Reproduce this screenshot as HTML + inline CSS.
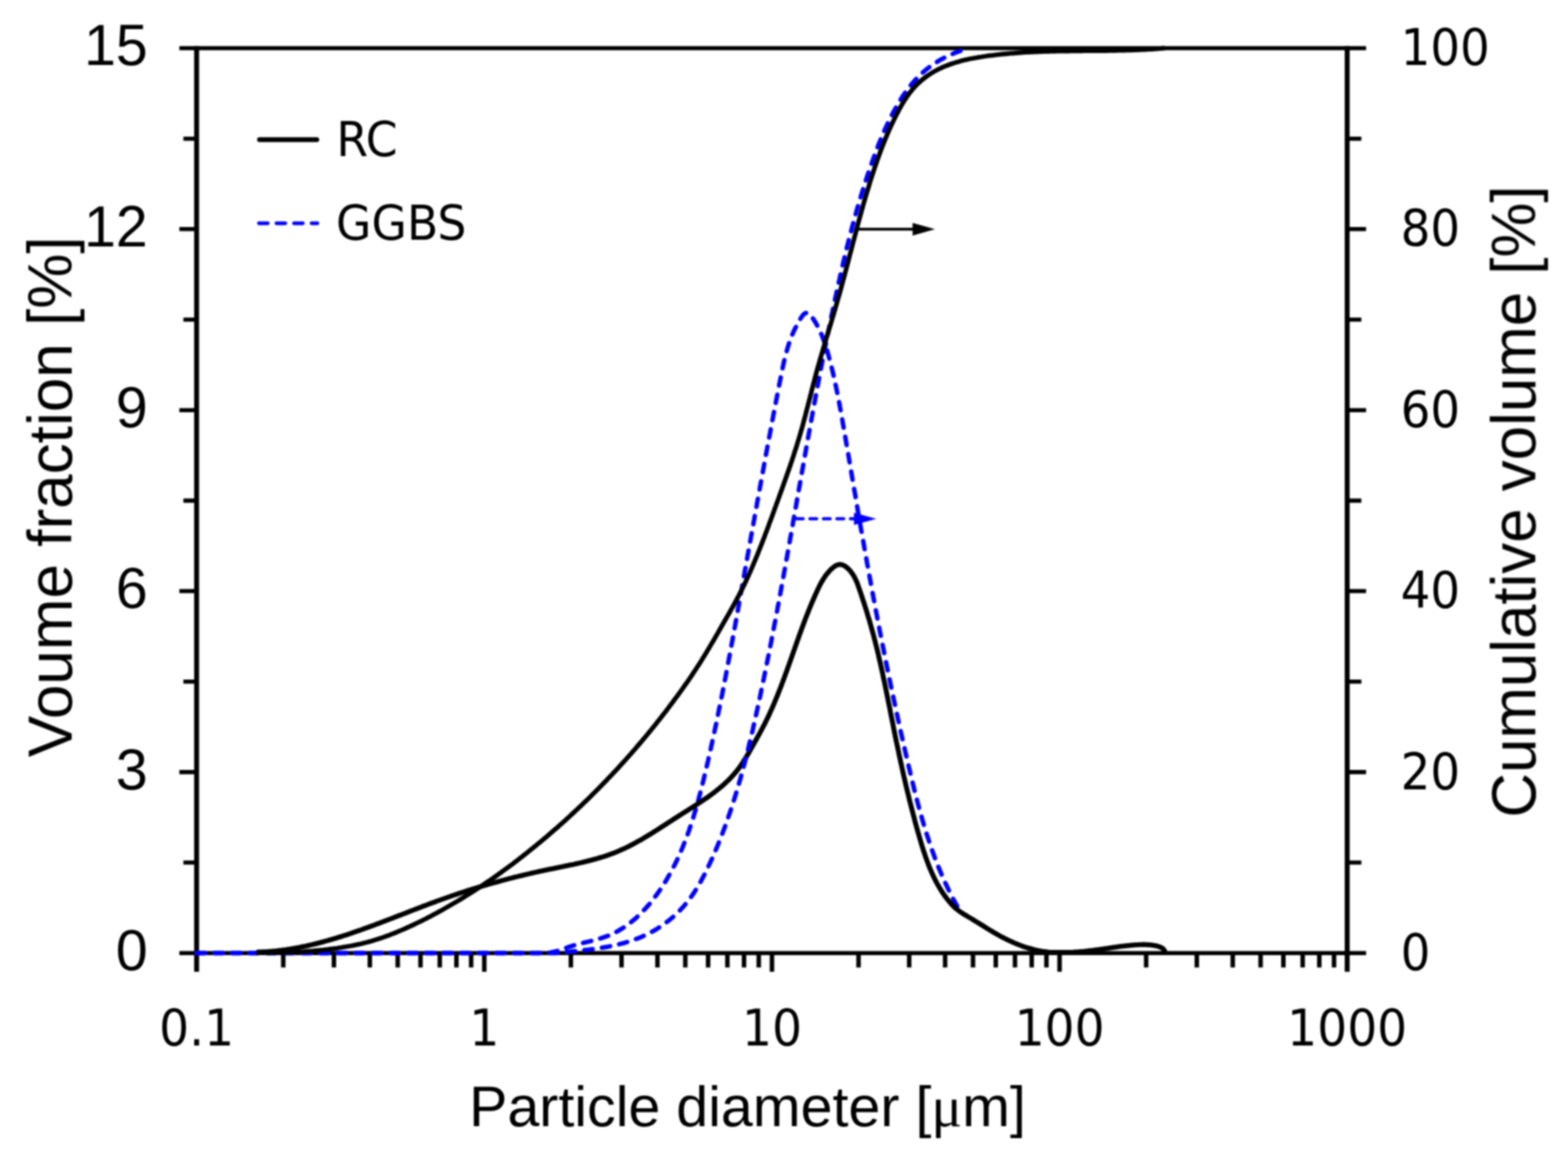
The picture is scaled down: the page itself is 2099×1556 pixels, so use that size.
<!DOCTYPE html>
<html lang="en"><head><meta charset="utf-8"><title>Particle size distribution</title>
<style>html,body{margin:0;padding:0;background:#fff}body{width:2099px;height:1556px;overflow:hidden}svg{display:block}</style>
</head><body>
<svg width="2099" height="1556" viewBox="0 0 2099 1556">
<rect width="2099" height="1556" fill="#fff"/>
<defs><filter id="soft" x="0" y="0" width="2099" height="1556" filterUnits="userSpaceOnUse" color-interpolation-filters="sRGB"><feGaussianBlur stdDeviation="0.9"/></filter></defs>
<g filter="url(#soft)">
<path d="M240.1 1276.2H263.3M245.5 1155.0H263.3M240.1 1033.9H263.3M245.5 912.7H263.3M240.1 791.5H263.3M245.5 670.4H263.3M240.1 549.2H263.3M245.5 428.0H263.3M240.1 306.8H263.3M245.5 185.7H263.3M240.1 64.5H263.3M1803.4 1276.2H1828.7M1803.4 1155.0H1822.4M1803.4 1033.9H1828.7M1803.4 912.7H1822.4M1803.4 791.5H1828.7M1803.4 670.4H1822.4M1803.4 549.2H1828.7M1803.4 428.0H1822.4M1803.4 306.8H1828.7M1803.4 185.7H1822.4M1803.4 64.5H1828.7M260.0 64.5H1806.7M260.0 1276.2H1806.7" stroke="#000" stroke-width="5.6" fill="none"/>
<path d="M379.2 1276.2V1295.4M447.0 1276.2V1295.4M495.1 1276.2V1295.4M532.4 1276.2V1295.4M562.9 1276.2V1295.4M588.7 1276.2V1295.4M611.0 1276.2V1295.4M630.7 1276.2V1295.4M648.3 1276.2V1301.2M764.2 1276.2V1295.4M832.0 1276.2V1295.4M880.1 1276.2V1295.4M917.4 1276.2V1295.4M947.9 1276.2V1295.4M973.7 1276.2V1295.4M996.0 1276.2V1295.4M1015.7 1276.2V1295.4M1033.4 1276.2V1301.2M1149.3 1276.2V1295.4M1217.1 1276.2V1295.4M1265.2 1276.2V1295.4M1302.5 1276.2V1295.4M1333.0 1276.2V1295.4M1358.7 1276.2V1295.4M1381.1 1276.2V1295.4M1400.8 1276.2V1295.4M1418.4 1276.2V1301.2M1534.3 1276.2V1295.4M1602.1 1276.2V1295.4M1650.2 1276.2V1295.4M1687.5 1276.2V1295.4M1718.0 1276.2V1295.4M1743.8 1276.2V1295.4M1766.1 1276.2V1295.4M1785.8 1276.2V1295.4" stroke="#000" stroke-width="6.0" fill="none"/>
<path d="M263.2 61.7V1301.2M1803.4 61.7V1301.2" stroke="#000" stroke-width="6.6" fill="none"/>
<path d="M263.3 1276.2 L725.0 1276.2 L725.0 1276.2 L728.1 1276.3 L731.2 1276.1 L734.2 1275.9 L737.2 1275.4 L740.1 1274.8 L742.9 1274.1 L745.8 1273.4 L748.6 1272.5 L751.3 1271.6 L754.1 1270.6 L756.9 1269.6 L759.7 1268.7 L762.5 1267.7 L765.4 1266.8 L768.2 1265.9 L771.1 1265.1 L774.1 1264.3 L777.0 1263.5 L780.0 1262.8 L783.0 1262.0 L786.0 1261.3 L789.0 1260.6 L792.0 1259.9 L794.9 1259.1 L797.9 1258.3 L800.9 1257.5 L803.8 1256.6 L806.7 1255.7 L809.6 1254.7 L812.4 1253.7 L815.2 1252.6 L817.9 1251.4 L820.7 1250.1 L823.3 1248.8 L826.0 1247.4 L828.6 1245.9 L831.1 1244.4 L833.7 1242.8 L836.1 1241.2 L838.6 1239.5 L841.0 1237.7 L843.4 1235.9 L845.7 1234.0 L848.0 1232.1 L850.3 1230.2 L852.5 1228.2 L854.7 1226.1 L856.9 1224.0 L859.0 1221.9 L861.1 1219.7 L863.2 1217.5 L865.2 1215.3 L867.2 1213.0 L869.2 1210.7 L871.1 1208.4 L873.0 1206.0 L874.9 1203.6 L876.7 1201.2 L878.5 1198.8 L880.3 1196.4 L882.0 1193.9 L883.7 1191.4 L885.4 1188.9 L887.0 1186.4 L888.6 1183.9 L890.2 1181.3 L891.8 1178.8 L893.3 1176.2 L894.8 1173.6 L896.3 1171.0 L897.7 1168.4 L899.2 1165.8 L900.6 1163.1 L901.9 1160.5 L903.3 1157.8 L904.6 1155.1 L905.9 1152.5 L907.2 1149.8 L908.4 1147.0 L909.6 1144.3 L910.8 1141.6 L912.0 1138.8 L913.2 1136.1 L914.3 1133.3 L915.4 1130.5 L916.5 1127.8 L917.6 1125.0 L918.7 1122.2 L919.7 1119.4 L920.8 1116.5 L921.8 1113.7 L922.8 1110.9 L923.7 1108.0 L924.7 1105.2 L925.6 1102.3 L926.6 1099.5 L927.5 1096.6 L928.4 1093.7 L929.2 1090.8 L930.1 1087.9 L931.0 1085.0 L931.8 1082.1 L932.6 1079.2 L933.5 1076.3 L934.3 1073.4 L935.1 1070.5 L935.8 1067.6 L936.6 1064.7 L937.4 1061.7 L938.1 1058.8 L938.9 1055.9 L939.6 1052.9 L940.4 1050.0 L941.1 1047.1 L941.8 1044.1 L942.5 1041.2 L943.2 1038.2 L943.9 1035.3 L944.6 1032.3 L945.3 1029.4 L946.0 1026.5 L946.7 1023.5 L947.4 1020.6 L948.1 1017.6 L948.7 1014.7 L949.4 1011.7 L950.1 1008.8 L950.7 1005.9 L951.4 1002.9 L952.0 1000.0 L952.7 997.0 L953.3 994.1 L954.0 991.1 L954.6 988.2 L955.2 985.2 L955.9 982.3 L956.5 979.4 L957.1 976.4 L957.8 973.5 L958.4 970.5 L959.0 967.6 L959.6 964.6 L960.2 961.7 L960.8 958.8 L961.4 955.8 L962.0 952.9 L962.6 949.9 L963.2 947.0 L963.8 944.0 L964.4 941.1 L965.0 938.1 L965.6 935.2 L966.2 932.3 L966.8 929.3 L967.4 926.4 L967.9 923.4 L968.5 920.5 L969.1 917.5 L969.7 914.6 L970.2 911.6 L970.8 908.7 L971.4 905.8 L971.9 902.8 L972.5 899.9 L973.0 896.9 L973.6 894.0 L974.2 891.0 L974.7 888.1 L975.3 885.1 L975.8 882.2 L976.4 879.2 L976.9 876.3 L977.5 873.3 L978.0 870.4 L978.6 867.4 L979.1 864.5 L979.6 861.6 L980.2 858.6 L980.7 855.7 L981.3 852.7 L981.8 849.8 L982.3 846.8 L982.9 843.9 L983.4 840.9 L984.0 838.0 L984.5 835.0 L985.0 832.1 L985.6 829.1 L986.1 826.2 L986.6 823.2 L987.2 820.3 L987.7 817.3 L988.2 814.4 L988.8 811.4 L989.3 808.4 L989.8 805.5 L990.3 802.5 L990.9 799.6 L991.4 796.6 L991.9 793.7 L992.5 790.7 L993.0 787.8 L993.5 784.8 L994.1 781.9 L994.6 778.9 L995.1 775.9 L995.6 773.0 L996.2 770.0 L996.7 767.1 L997.2 764.1 L997.8 761.2 L998.3 758.2 L998.8 755.2 L999.4 752.3 L999.9 749.3 L1000.4 746.4 L1000.9 743.4 L1001.5 740.5 L1002.0 737.5 L1002.5 734.5 L1003.1 731.6 L1003.6 728.6 L1004.1 725.7 L1004.7 722.7 L1005.2 719.7 L1005.7 716.8 L1006.3 713.8 L1006.8 710.9 L1007.3 707.9 L1007.9 704.9 L1008.4 702.0 L1008.9 699.0 L1009.5 696.1 L1010.0 693.1 L1010.5 690.1 L1011.1 687.2 L1011.6 684.2 L1012.1 681.2 L1012.7 678.3 L1013.2 675.3 L1013.7 672.4 L1014.3 669.4 L1014.8 666.4 L1015.4 663.5 L1015.9 660.5 L1016.4 657.5 L1017.0 654.6 L1017.5 651.6 L1018.1 648.7 L1018.6 645.7 L1019.1 642.7 L1019.7 639.8 L1020.2 636.8 L1020.8 633.8 L1021.3 630.9 L1021.9 627.9 L1022.4 625.0 L1022.9 622.0 L1023.5 619.0 L1024.0 616.1 L1024.6 613.1 L1025.1 610.1 L1025.7 607.2 L1026.2 604.2 L1026.8 601.3 L1027.3 598.3 L1027.9 595.3 L1028.4 592.4 L1029.0 589.4 L1029.6 586.4 L1030.1 583.5 L1030.7 580.5 L1031.2 577.5 L1031.8 574.6 L1032.3 571.6 L1032.9 568.7 L1033.5 565.7 L1034.0 562.7 L1034.6 559.8 L1035.1 556.8 L1035.7 553.8 L1036.3 550.9 L1036.8 547.9 L1037.4 545.0 L1038.0 542.0 L1038.5 539.0 L1039.1 536.1 L1039.7 533.1 L1040.3 530.2 L1040.8 527.2 L1041.4 524.2 L1042.0 521.3 L1042.6 518.3 L1043.1 515.3 L1043.7 512.4 L1044.3 509.4 L1044.9 506.5 L1045.5 503.5 L1046.1 500.6 L1046.7 497.6 L1047.3 494.6 L1047.9 491.7 L1048.5 488.8 L1049.2 485.8 L1049.8 482.9 L1050.5 480.0 L1051.2 477.1 L1052.0 474.2 L1052.8 471.3 L1053.6 468.5 L1054.4 465.6 L1055.3 462.8 L1056.2 460.0 L1057.1 457.2 L1058.1 454.4 L1059.2 451.7 L1060.3 448.9 L1061.4 446.2 L1062.6 443.5 L1063.9 440.9 L1065.2 438.2 L1066.6 435.5 L1068.1 432.7 L1069.7 429.8 L1071.5 426.8 L1073.4 423.9 L1075.4 421.3 L1077.5 419.6 L1079.6 418.9 L1081.8 419.5 L1084.0 421.1 L1086.2 423.5 L1088.2 426.4 L1090.1 429.3 L1091.9 432.2 L1093.4 434.9 L1094.9 437.6 L1096.2 440.2 L1097.4 442.9 L1098.6 445.5 L1099.8 448.2 L1100.9 450.9 L1101.9 453.7 L1103.0 456.5 L1103.9 459.3 L1104.9 462.1 L1105.8 465.0 L1106.7 467.8 L1107.6 470.7 L1108.4 473.6 L1109.2 476.5 L1110.0 479.4 L1110.8 482.4 L1111.6 485.3 L1112.3 488.2 L1113.1 491.2 L1113.8 494.1 L1114.5 497.0 L1115.2 500.0 L1115.8 502.9 L1116.5 505.9 L1117.2 508.8 L1117.8 511.8 L1118.4 514.7 L1119.1 517.6 L1119.7 520.6 L1120.3 523.5 L1120.9 526.5 L1121.5 529.4 L1122.0 532.4 L1122.6 535.3 L1123.2 538.3 L1123.7 541.2 L1124.3 544.2 L1124.8 547.1 L1125.4 550.1 L1125.9 553.1 L1126.4 556.0 L1127.0 559.0 L1127.5 561.9 L1128.0 564.9 L1128.5 567.8 L1129.0 570.8 L1129.5 573.8 L1130.1 576.7 L1130.6 579.7 L1131.1 582.6 L1131.6 585.6 L1132.1 588.6 L1132.6 591.5 L1133.1 594.5 L1133.6 597.4 L1134.1 600.4 L1134.6 603.4 L1135.1 606.3 L1135.7 609.3 L1136.2 612.2 L1136.7 615.2 L1137.2 618.2 L1137.7 621.1 L1138.2 624.1 L1138.7 627.1 L1139.2 630.0 L1139.7 633.0 L1140.2 636.0 L1140.7 638.9 L1141.2 641.9 L1141.7 644.9 L1142.2 647.8 L1142.7 650.8 L1143.2 653.8 L1143.7 656.7 L1144.3 659.7 L1144.8 662.6 L1145.3 665.6 L1145.8 668.6 L1146.3 671.5 L1146.8 674.5 L1147.3 677.5 L1147.8 680.4 L1148.3 683.4 L1148.8 686.4 L1149.3 689.3 L1149.9 692.3 L1150.4 695.3 L1150.9 698.2 L1151.4 701.2 L1151.9 704.2 L1152.4 707.1 L1152.9 710.1 L1153.5 713.0 L1154.0 716.0 L1154.5 719.0 L1155.0 721.9 L1155.6 724.9 L1156.1 727.8 L1156.6 730.8 L1157.1 733.8 L1157.7 736.7 L1158.2 739.7 L1158.7 742.7 L1159.2 745.6 L1159.8 748.6 L1160.3 751.5 L1160.8 754.5 L1161.4 757.4 L1161.9 760.4 L1162.4 763.4 L1163.0 766.3 L1163.5 769.3 L1164.1 772.2 L1164.6 775.2 L1165.2 778.1 L1165.7 781.1 L1166.2 784.1 L1166.8 787.0 L1167.3 790.0 L1167.9 792.9 L1168.4 795.9 L1169.0 798.8 L1169.5 801.8 L1170.1 804.7 L1170.7 807.7 L1171.2 810.6 L1171.8 813.6 L1172.3 816.6 L1172.9 819.5 L1173.5 822.5 L1174.0 825.4 L1174.6 828.4 L1175.2 831.3 L1175.7 834.3 L1176.3 837.2 L1176.9 840.2 L1177.4 843.1 L1178.0 846.1 L1178.6 849.0 L1179.2 852.0 L1179.7 854.9 L1180.3 857.9 L1180.9 860.8 L1181.5 863.8 L1182.1 866.7 L1182.7 869.7 L1183.3 872.6 L1183.8 875.5 L1184.4 878.5 L1185.0 881.4 L1185.6 884.4 L1186.2 887.3 L1186.8 890.3 L1187.4 893.2 L1188.0 896.2 L1188.6 899.1 L1189.2 902.1 L1189.8 905.0 L1190.4 907.9 L1191.1 910.9 L1191.7 913.8 L1192.3 916.8 L1192.9 919.7 L1193.5 922.7 L1194.1 925.6 L1194.8 928.5 L1195.4 931.5 L1196.0 934.4 L1196.6 937.4 L1197.3 940.3 L1197.9 943.2 L1198.5 946.2 L1199.1 949.1 L1199.8 952.1 L1200.4 955.0 L1201.1 957.9 L1201.7 960.9 L1202.3 963.8 L1203.0 966.8 L1203.6 969.7 L1204.3 972.6 L1204.9 975.6 L1205.6 978.5 L1206.2 981.4 L1206.9 984.4 L1207.5 987.3 L1208.2 990.3 L1208.9 993.2 L1209.5 996.1 L1210.2 999.1 L1210.9 1002.0 L1211.5 1004.9 L1212.2 1007.9 L1212.9 1010.8 L1213.6 1013.7 L1214.2 1016.7 L1214.9 1019.6 L1215.6 1022.5 L1216.3 1025.5 L1217.0 1028.4 L1217.7 1031.3 L1218.4 1034.3 L1219.1 1037.2 L1219.8 1040.1 L1220.5 1043.0 L1221.2 1046.0 L1221.9 1048.9 L1222.6 1051.8 L1223.3 1054.7 L1224.0 1057.7 L1224.8 1060.6 L1225.5 1063.5 L1226.3 1066.4 L1227.0 1069.3 L1227.8 1072.3 L1228.5 1075.2 L1229.3 1078.1 L1230.1 1081.0 L1230.9 1083.9 L1231.7 1086.8 L1232.5 1089.7 L1233.3 1092.6 L1234.1 1095.5 L1234.9 1098.3 L1235.8 1101.2 L1236.6 1104.1 L1237.5 1107.0 L1238.4 1109.9 L1239.2 1112.7 L1240.1 1115.6 L1241.0 1118.4 L1242.0 1121.3 L1242.9 1124.2 L1243.8 1127.0 L1244.8 1129.8 L1245.8 1132.7 L1246.7 1135.5 L1247.7 1138.3 L1248.7 1141.2 L1249.8 1144.0 L1250.8 1146.8 L1251.8 1149.6 L1252.9 1152.4 L1254.0 1155.2 L1255.1 1158.0 L1256.2 1160.8 L1257.3 1163.5 L1258.5 1166.3 L1259.7 1169.1 L1260.8 1171.8 L1262.0 1174.6 L1263.2 1177.3 L1264.5 1180.1 L1265.7 1182.8 L1267.0 1185.5 L1268.3 1188.3 L1269.6 1191.0 L1270.9 1193.7 L1272.3 1196.4 L1273.6 1199.0 L1275.0 1201.7 L1276.4 1204.4 L1277.9 1207.1 L1279.3 1209.7 L1280.8 1212.4 L1282.3 1215.0" fill="none" stroke="#0000ff" stroke-width="6.0" stroke-dasharray="11.2 12.4" stroke-linecap="round" stroke-linejoin="round"/>
<path d="M343.5 1275.0 L346.5 1274.9 L349.6 1274.8 L352.6 1274.6 L355.6 1274.5 L358.6 1274.3 L361.7 1274.0 L364.7 1273.8 L367.7 1273.5 L370.7 1273.2 L373.6 1272.8 L376.6 1272.5 L379.6 1272.1 L382.6 1271.7 L385.5 1271.2 L388.5 1270.8 L391.4 1270.3 L394.4 1269.8 L397.3 1269.2 L400.3 1268.7 L403.2 1268.1 L406.1 1267.5 L409.1 1266.9 L412.0 1266.2 L414.9 1265.6 L417.8 1264.9 L420.7 1264.2 L423.6 1263.5 L426.5 1262.8 L429.4 1262.0 L432.3 1261.2 L435.2 1260.4 L438.1 1259.6 L441.0 1258.8 L443.8 1258.0 L446.7 1257.1 L449.6 1256.3 L452.4 1255.4 L455.3 1254.5 L458.2 1253.6 L461.0 1252.7 L463.9 1251.8 L466.7 1250.8 L469.6 1249.9 L472.4 1248.9 L475.3 1247.9 L478.1 1246.9 L480.9 1246.0 L483.8 1245.0 L486.6 1243.9 L489.5 1242.9 L492.3 1241.9 L495.1 1240.9 L497.9 1239.8 L500.8 1238.8 L503.6 1237.7 L506.4 1236.7 L509.2 1235.6 L512.1 1234.5 L514.9 1233.4 L517.7 1232.4 L520.5 1231.3 L523.3 1230.2 L526.2 1229.1 L529.0 1228.0 L531.8 1226.9 L534.6 1225.8 L537.4 1224.8 L540.2 1223.7 L543.0 1222.6 L545.9 1221.5 L548.7 1220.4 L551.5 1219.3 L554.3 1218.2 L557.1 1217.1 L559.9 1216.1 L562.8 1215.0 L565.6 1213.9 L568.4 1212.8 L571.2 1211.8 L574.0 1210.7 L576.8 1209.7 L579.7 1208.6 L582.5 1207.6 L585.3 1206.5 L588.1 1205.5 L591.0 1204.5 L593.8 1203.5 L596.6 1202.5 L599.5 1201.5 L602.3 1200.5 L605.1 1199.5 L608.0 1198.5 L610.8 1197.6 L613.6 1196.6 L616.5 1195.7 L619.3 1194.8 L622.2 1193.8 L625.0 1192.9 L627.9 1192.0 L630.7 1191.1 L633.6 1190.2 L636.5 1189.3 L639.3 1188.5 L642.2 1187.6 L645.0 1186.7 L647.9 1185.9 L650.8 1185.1 L653.7 1184.2 L656.5 1183.4 L659.4 1182.6 L662.3 1181.8 L665.2 1181.0 L668.1 1180.2 L671.0 1179.4 L673.9 1178.6 L676.7 1177.8 L679.6 1177.1 L682.5 1176.3 L685.5 1175.6 L688.4 1174.8 L691.3 1174.1 L694.2 1173.4 L697.1 1172.7 L700.0 1172.0 L703.0 1171.3 L705.9 1170.6 L708.8 1169.9 L711.7 1169.2 L714.7 1168.6 L717.6 1167.9 L720.6 1167.2 L723.5 1166.6 L726.5 1166.0 L729.4 1165.3 L732.4 1164.7 L735.4 1164.1 L738.3 1163.5 L741.3 1162.9 L744.3 1162.3 L747.2 1161.7 L750.2 1161.1 L753.2 1160.5 L756.1 1159.8 L759.1 1159.2 L762.1 1158.6 L765.0 1158.0 L768.0 1157.4 L771.0 1156.7 L773.9 1156.1 L776.9 1155.4 L779.8 1154.7 L782.7 1154.0 L785.7 1153.3 L788.6 1152.5 L791.5 1151.8 L794.4 1151.0 L797.3 1150.2 L800.2 1149.4 L803.0 1148.5 L805.9 1147.7 L808.8 1146.8 L811.6 1145.8 L814.4 1144.9 L817.2 1143.9 L820.0 1142.8 L822.8 1141.8 L825.5 1140.7 L828.3 1139.5 L831.0 1138.3 L833.7 1137.1 L836.4 1135.9 L839.1 1134.6 L841.8 1133.3 L844.4 1131.9 L847.1 1130.5 L849.7 1129.1 L852.3 1127.7 L854.9 1126.2 L857.5 1124.8 L860.1 1123.3 L862.7 1121.7 L865.3 1120.2 L867.8 1118.7 L870.4 1117.1 L873.0 1115.5 L875.5 1113.9 L878.1 1112.3 L880.6 1110.7 L883.2 1109.0 L885.7 1107.4 L888.3 1105.8 L890.8 1104.1 L893.3 1102.5 L895.9 1100.8 L898.4 1099.2 L901.0 1097.5 L903.5 1095.9 L906.1 1094.2 L908.6 1092.6 L911.2 1091.0 L913.8 1089.3 L916.3 1087.7 L918.9 1086.1 L921.5 1084.5 L924.0 1082.8 L926.6 1081.2 L929.1 1079.6 L931.7 1077.9 L934.2 1076.3 L936.7 1074.6 L939.2 1073.0 L941.7 1071.3 L944.2 1069.6 L946.7 1067.9 L949.1 1066.2 L951.6 1064.4 L954.0 1062.6 L956.4 1060.8 L958.7 1059.0 L961.0 1057.2 L963.3 1055.3 L965.6 1053.4 L967.9 1051.4 L970.1 1049.5 L972.2 1047.4 L974.4 1045.4 L976.5 1043.3 L978.5 1041.2 L980.5 1039.0 L982.5 1036.8 L984.5 1034.5 L986.3 1032.2 L988.2 1029.8 L990.0 1027.4 L991.7 1025.0 L993.4 1022.5 L995.1 1019.9 L996.7 1017.4 L998.3 1014.8 L999.9 1012.1 L1001.5 1009.5 L1003.0 1006.9 L1004.5 1004.2 L1006.0 1001.5 L1007.5 998.9 L1009.0 996.2 L1010.4 993.6 L1011.9 991.0 L1013.4 988.3 L1014.8 985.7 L1016.3 983.1 L1017.7 980.5 L1019.1 977.9 L1020.5 975.3 L1021.9 972.6 L1023.3 970.0 L1024.6 967.3 L1025.9 964.6 L1027.2 962.0 L1028.5 959.3 L1029.8 956.6 L1031.0 953.8 L1032.2 951.1 L1033.5 948.4 L1034.7 945.6 L1035.9 942.9 L1037.0 940.1 L1038.2 937.4 L1039.3 934.6 L1040.5 931.8 L1041.6 929.0 L1042.7 926.2 L1043.8 923.4 L1044.9 920.6 L1046.0 917.8 L1047.0 915.0 L1048.1 912.1 L1049.2 909.3 L1050.2 906.5 L1051.2 903.6 L1052.3 900.8 L1053.3 898.0 L1054.3 895.1 L1055.3 892.3 L1056.4 889.4 L1057.4 886.6 L1058.4 883.7 L1059.4 880.9 L1060.4 878.0 L1061.4 875.2 L1062.4 872.3 L1063.4 869.5 L1064.4 866.6 L1065.4 863.8 L1066.4 860.9 L1067.4 858.1 L1068.4 855.3 L1069.4 852.4 L1070.4 849.6 L1071.5 846.8 L1072.5 843.9 L1073.5 841.1 L1074.6 838.3 L1075.6 835.5 L1076.7 832.7 L1077.7 829.9 L1078.8 827.1 L1079.9 824.3 L1081.0 821.5 L1082.1 818.7 L1083.2 815.9 L1084.3 813.2 L1085.5 810.4 L1086.6 807.6 L1087.8 804.9 L1089.0 802.2 L1090.2 799.4 L1091.4 796.7 L1092.6 794.0 L1093.8 791.3 L1095.1 788.6 L1096.4 785.9 L1097.7 783.3 L1099.1 780.6 L1100.6 778.0 L1102.1 775.5 L1103.8 772.9 L1105.5 770.4 L1107.4 768.0 L1109.5 765.6 L1111.6 763.2 L1114.0 761.0 L1116.5 759.0 L1119.0 757.3 L1121.7 756.2 L1124.4 755.8 L1127.1 756.2 L1129.7 757.3 L1132.3 758.9 L1134.7 760.9 L1137.0 763.2 L1139.1 765.6 L1140.9 768.1 L1142.6 770.7 L1144.1 773.4 L1145.4 776.1 L1146.7 778.8 L1147.8 781.6 L1148.8 784.4 L1149.8 787.3 L1150.8 790.1 L1151.8 793.0 L1152.7 795.8 L1153.7 798.7 L1154.6 801.5 L1155.5 804.4 L1156.5 807.2 L1157.4 810.1 L1158.3 812.9 L1159.2 815.8 L1160.1 818.6 L1161.0 821.5 L1161.8 824.4 L1162.7 827.2 L1163.6 830.1 L1164.4 833.0 L1165.2 835.8 L1166.0 838.7 L1166.8 841.6 L1167.6 844.5 L1168.4 847.4 L1169.2 850.3 L1170.0 853.2 L1170.7 856.1 L1171.5 859.0 L1172.2 861.9 L1172.9 864.8 L1173.7 867.7 L1174.4 870.7 L1175.1 873.6 L1175.8 876.5 L1176.4 879.4 L1177.1 882.4 L1177.8 885.3 L1178.5 888.2 L1179.1 891.2 L1179.8 894.1 L1180.4 897.0 L1181.1 900.0 L1181.7 902.9 L1182.3 905.9 L1182.9 908.8 L1183.6 911.8 L1184.2 914.7 L1184.8 917.7 L1185.4 920.6 L1186.0 923.6 L1186.6 926.5 L1187.2 929.5 L1187.8 932.4 L1188.4 935.4 L1189.0 938.4 L1189.6 941.3 L1190.2 944.3 L1190.8 947.2 L1191.4 950.2 L1191.9 953.1 L1192.5 956.1 L1193.1 959.0 L1193.7 962.0 L1194.3 964.9 L1194.9 967.9 L1195.5 970.8 L1196.1 973.8 L1196.6 976.7 L1197.2 979.7 L1197.8 982.6 L1198.4 985.6 L1199.0 988.5 L1199.6 991.5 L1200.2 994.4 L1200.9 997.3 L1201.5 1000.3 L1202.1 1003.2 L1202.7 1006.2 L1203.3 1009.1 L1203.9 1012.0 L1204.6 1015.0 L1205.2 1017.9 L1205.8 1020.8 L1206.5 1023.7 L1207.1 1026.7 L1207.8 1029.6 L1208.4 1032.5 L1209.1 1035.5 L1209.7 1038.4 L1210.4 1041.3 L1211.1 1044.2 L1211.7 1047.1 L1212.4 1050.1 L1213.1 1053.0 L1213.8 1055.9 L1214.5 1058.8 L1215.2 1061.7 L1215.9 1064.6 L1216.6 1067.6 L1217.3 1070.5 L1218.0 1073.4 L1218.8 1076.3 L1219.5 1079.2 L1220.3 1082.1 L1221.0 1085.0 L1221.8 1087.9 L1222.5 1090.8 L1223.3 1093.7 L1224.1 1096.7 L1224.8 1099.6 L1225.6 1102.5 L1226.4 1105.4 L1227.2 1108.3 L1228.0 1111.2 L1228.8 1114.1 L1229.7 1117.0 L1230.5 1119.9 L1231.3 1122.8 L1232.2 1125.7 L1233.0 1128.6 L1233.9 1131.5 L1234.8 1134.4 L1235.7 1137.2 L1236.6 1140.1 L1237.6 1143.0 L1238.5 1145.8 L1239.5 1148.7 L1240.5 1151.5 L1241.6 1154.4 L1242.6 1157.2 L1243.7 1160.0 L1244.8 1162.8 L1246.0 1165.5 L1247.2 1168.3 L1248.4 1171.0 L1249.7 1173.7 L1251.0 1176.4 L1252.3 1179.1 L1253.7 1181.7 L1255.1 1184.3 L1256.6 1186.9 L1258.1 1189.5 L1259.7 1192.1 L1261.3 1194.6 L1263.0 1197.1 L1264.7 1199.5 L1266.5 1202.0 L1268.3 1204.3 L1270.2 1206.7 L1272.2 1209.0 L1274.2 1211.3 L1276.3 1213.5 L1278.5 1215.6 L1280.8 1217.5 L1283.2 1219.4 L1285.6 1221.1 L1288.1 1222.8 L1290.6 1224.4 L1293.2 1225.9 L1295.8 1227.5 L1298.4 1229.0 L1301.0 1230.5 L1303.5 1232.1 L1306.1 1233.7 L1308.7 1235.3 L1311.2 1236.9 L1313.8 1238.4 L1316.3 1240.0 L1318.9 1241.6 L1321.4 1243.2 L1324.0 1244.8 L1326.6 1246.3 L1329.1 1247.9 L1331.7 1249.4 L1334.4 1250.9 L1337.0 1252.4 L1339.6 1253.8 L1342.3 1255.2 L1345.0 1256.6 L1347.7 1258.0 L1350.4 1259.3 L1353.1 1260.5 L1355.8 1261.8 L1358.6 1263.0 L1361.4 1264.1 L1364.2 1265.2 L1367.0 1266.3 L1369.8 1267.3 L1372.6 1268.3 L1375.5 1269.2 L1378.4 1270.0 L1381.3 1270.8 L1384.2 1271.6 L1387.1 1272.3 L1390.0 1272.9 L1392.9 1273.4 L1395.9 1273.9 L1398.9 1274.3 L1401.8 1274.7 L1404.8 1275.0 L1407.8 1275.2 L1410.9 1275.3 L1413.9 1275.3 L1416.9 1275.3 L1420.0 1275.2 L1422.5 1275.3 L1424.9 1275.3 L1427.4 1275.3 L1429.8 1275.3 L1432.3 1275.3 L1434.7 1275.2 L1437.2 1275.1 L1439.6 1274.9 L1442.0 1274.8 L1444.5 1274.6 L1446.9 1274.4 L1449.4 1274.2 L1451.8 1273.9 L1454.2 1273.7 L1456.7 1273.4 L1459.1 1273.1 L1461.5 1272.8 L1463.9 1272.5 L1466.4 1272.1 L1468.8 1271.8 L1471.2 1271.5 L1473.7 1271.1 L1476.1 1270.8 L1478.5 1270.4 L1480.9 1270.0 L1483.4 1269.7 L1485.8 1269.3 L1488.2 1269.0 L1490.6 1268.6 L1493.1 1268.3 L1495.5 1267.9 L1497.9 1267.6 L1500.4 1267.3 L1502.8 1267.0 L1505.2 1266.7 L1507.6 1266.4 L1510.1 1266.2 L1512.5 1265.9 L1514.9 1265.7 L1517.4 1265.5 L1519.8 1265.3 L1522.3 1265.2 L1524.7 1265.0 L1527.1 1265.0 L1529.6 1264.9 L1532.0 1264.9 L1534.5 1265.0 L1536.9 1265.1 L1539.4 1265.3 L1541.8 1265.5 L1544.2 1265.9 L1546.7 1266.3 L1549.1 1266.9 L1551.5 1267.6 L1553.8 1268.5 L1555.9 1269.7 L1557.7 1271.3 L1559.0 1273.3 L1559.6 1275.8" fill="none" stroke="#000" stroke-width="6.6" stroke-linejoin="round"/>
<path d="M263.3 1276.2 L745.0 1276.2 L745.0 1276.2 L748.0 1275.9 L750.9 1275.6 L753.9 1275.3 L756.9 1275.0 L759.9 1274.7 L762.9 1274.4 L765.9 1274.1 L768.9 1273.8 L771.8 1273.5 L774.8 1273.2 L777.8 1272.8 L780.8 1272.5 L783.8 1272.1 L786.8 1271.8 L789.8 1271.4 L792.8 1271.0 L795.8 1270.6 L798.8 1270.1 L801.8 1269.7 L804.8 1269.2 L807.8 1268.7 L810.8 1268.2 L813.8 1267.7 L816.7 1267.1 L819.7 1266.5 L822.7 1265.8 L825.6 1265.2 L828.5 1264.5 L831.5 1263.7 L834.4 1263.0 L837.3 1262.2 L840.1 1261.3 L843.0 1260.4 L845.9 1259.5 L848.7 1258.5 L851.5 1257.4 L854.3 1256.4 L857.1 1255.2 L859.9 1254.0 L862.6 1252.8 L865.3 1251.5 L868.0 1250.1 L870.7 1248.8 L873.4 1247.3 L876.0 1245.8 L878.6 1244.3 L881.1 1242.7 L883.7 1241.0 L886.2 1239.3 L888.7 1237.6 L891.1 1235.8 L893.5 1234.0 L895.9 1232.1 L898.2 1230.2 L900.5 1228.2 L902.8 1226.2 L905.0 1224.2 L907.1 1222.1 L909.3 1220.0 L911.4 1217.8 L913.4 1215.6 L915.4 1213.4 L917.3 1211.1 L919.2 1208.8 L921.1 1206.4 L922.9 1204.1 L924.7 1201.6 L926.4 1199.2 L928.1 1196.7 L929.8 1194.2 L931.4 1191.7 L933.0 1189.1 L934.5 1186.5 L936.0 1183.9 L937.5 1181.3 L939.0 1178.7 L940.4 1176.0 L941.8 1173.3 L943.2 1170.7 L944.6 1168.0 L945.9 1165.2 L947.2 1162.5 L948.5 1159.8 L949.8 1157.0 L951.1 1154.3 L952.3 1151.5 L953.6 1148.8 L954.8 1146.0 L956.0 1143.2 L957.2 1140.5 L958.4 1137.7 L959.5 1134.9 L960.7 1132.1 L961.8 1129.3 L962.9 1126.5 L964.1 1123.7 L965.2 1120.9 L966.3 1118.1 L967.3 1115.3 L968.4 1112.5 L969.5 1109.7 L970.5 1106.9 L971.5 1104.0 L972.5 1101.2 L973.6 1098.4 L974.5 1095.5 L975.5 1092.7 L976.5 1089.8 L977.5 1087.0 L978.4 1084.1 L979.4 1081.3 L980.3 1078.4 L981.2 1075.6 L982.1 1072.7 L983.0 1069.8 L983.9 1067.0 L984.8 1064.1 L985.7 1061.2 L986.6 1058.3 L987.4 1055.4 L988.3 1052.5 L989.1 1049.7 L989.9 1046.8 L990.8 1043.9 L991.6 1041.0 L992.4 1038.1 L993.2 1035.2 L994.0 1032.3 L994.7 1029.4 L995.5 1026.5 L996.3 1023.5 L997.1 1020.6 L997.8 1017.7 L998.6 1014.8 L999.3 1011.9 L1000.0 1009.0 L1000.8 1006.0 L1001.5 1003.1 L1002.2 1000.2 L1002.9 997.3 L1003.6 994.3 L1004.3 991.4 L1005.0 988.5 L1005.7 985.5 L1006.4 982.6 L1007.1 979.7 L1007.8 976.7 L1008.4 973.8 L1009.1 970.8 L1009.8 967.9 L1010.4 965.0 L1011.1 962.0 L1011.7 959.1 L1012.4 956.1 L1013.0 953.2 L1013.7 950.2 L1014.3 947.3 L1014.9 944.4 L1015.6 941.4 L1016.2 938.5 L1016.8 935.5 L1017.5 932.6 L1018.1 929.6 L1018.7 926.7 L1019.3 923.7 L1020.0 920.8 L1020.6 917.8 L1021.2 914.9 L1021.8 911.9 L1022.4 909.0 L1023.0 906.0 L1023.6 903.1 L1024.2 900.1 L1024.8 897.2 L1025.4 894.2 L1026.0 891.3 L1026.6 888.3 L1027.2 885.3 L1027.8 882.4 L1028.4 879.4 L1029.0 876.5 L1029.6 873.5 L1030.1 870.6 L1030.7 867.6 L1031.3 864.7 L1031.9 861.7 L1032.5 858.8 L1033.0 855.8 L1033.6 852.8 L1034.2 849.9 L1034.7 846.9 L1035.3 844.0 L1035.9 841.0 L1036.4 838.1 L1037.0 835.1 L1037.6 832.1 L1038.1 829.2 L1038.7 826.2 L1039.2 823.3 L1039.8 820.3 L1040.4 817.3 L1040.9 814.4 L1041.5 811.4 L1042.0 808.5 L1042.6 805.5 L1043.1 802.5 L1043.7 799.6 L1044.2 796.6 L1044.8 793.7 L1045.3 790.7 L1045.9 787.7 L1046.4 784.8 L1046.9 781.8 L1047.5 778.8 L1048.0 775.9 L1048.6 772.9 L1049.1 770.0 L1049.6 767.0 L1050.2 764.0 L1050.7 761.1 L1051.2 758.1 L1051.8 755.1 L1052.3 752.2 L1052.8 749.2 L1053.4 746.3 L1053.9 743.3 L1054.4 740.3 L1055.0 737.4 L1055.5 734.4 L1056.0 731.4 L1056.5 728.5 L1057.1 725.5 L1057.6 722.5 L1058.1 719.6 L1058.7 716.6 L1059.2 713.7 L1059.7 710.7 L1060.2 707.7 L1060.8 704.8 L1061.3 701.8 L1061.8 698.8 L1062.3 695.9 L1062.8 692.9 L1063.4 689.9 L1063.9 687.0 L1064.4 684.0 L1064.9 681.0 L1065.5 678.1 L1066.0 675.1 L1066.5 672.1 L1067.0 669.2 L1067.6 666.2 L1068.1 663.3 L1068.6 660.3 L1069.1 657.3 L1069.6 654.4 L1070.2 651.4 L1070.7 648.4 L1071.2 645.5 L1071.7 642.5 L1072.3 639.5 L1072.8 636.6 L1073.3 633.6 L1073.8 630.6 L1074.4 627.7 L1074.9 624.7 L1075.4 621.7 L1075.9 618.8 L1076.5 615.8 L1077.0 612.9 L1077.5 609.9 L1078.1 606.9 L1078.6 604.0 L1079.1 601.0 L1079.6 598.0 L1080.2 595.1 L1080.7 592.1 L1081.2 589.1 L1081.8 586.2 L1082.3 583.2 L1082.8 580.3 L1083.4 577.3 L1083.9 574.3 L1084.5 571.4 L1085.0 568.4 L1085.5 565.4 L1086.1 562.5 L1086.6 559.5 L1087.2 556.6 L1087.7 553.6 L1088.2 550.6 L1088.8 547.7 L1089.3 544.7 L1089.9 541.7 L1090.4 538.8 L1091.0 535.8 L1091.5 532.9 L1092.1 529.9 L1092.6 526.9 L1093.2 524.0 L1093.8 521.0 L1094.3 518.1 L1094.9 515.1 L1095.4 512.2 L1096.0 509.2 L1096.6 506.2 L1097.1 503.3 L1097.7 500.3 L1098.3 497.4 L1098.8 494.4 L1099.4 491.4 L1100.0 488.5 L1100.5 485.5 L1101.1 482.6 L1101.7 479.6 L1102.3 476.7 L1102.9 473.7 L1103.4 470.7 L1104.0 467.8 L1104.6 464.8 L1105.2 461.9 L1105.8 458.9 L1106.4 456.0 L1107.0 453.0 L1107.6 450.1 L1108.2 447.1 L1108.8 444.2 L1109.4 441.2 L1110.0 438.3 L1110.6 435.3 L1111.2 432.4 L1111.8 429.4 L1112.4 426.5 L1113.0 423.5 L1113.6 420.6 L1114.3 417.6 L1114.9 414.7 L1115.5 411.7 L1116.1 408.8 L1116.8 405.8 L1117.4 402.9 L1118.0 399.9 L1118.7 397.0 L1119.3 394.0 L1119.9 391.1 L1120.6 388.1 L1121.2 385.2 L1121.9 382.2 L1122.5 379.3 L1123.2 376.4 L1123.9 373.4 L1124.5 370.5 L1125.2 367.5 L1125.9 364.6 L1126.5 361.7 L1127.2 358.7 L1127.9 355.8 L1128.6 352.8 L1129.3 349.9 L1130.0 347.0 L1130.7 344.0 L1131.4 341.1 L1132.1 338.2 L1132.8 335.3 L1133.5 332.3 L1134.2 329.4 L1135.0 326.5 L1135.7 323.6 L1136.4 320.6 L1137.2 317.7 L1137.9 314.8 L1138.7 311.9 L1139.5 309.0 L1140.2 306.1 L1141.0 303.2 L1141.8 300.2 L1142.6 297.3 L1143.4 294.4 L1144.1 291.5 L1145.0 288.6 L1145.8 285.7 L1146.6 282.8 L1147.4 279.9 L1148.2 277.1 L1149.1 274.2 L1149.9 271.3 L1150.8 268.4 L1151.6 265.5 L1152.5 262.6 L1153.4 259.8 L1154.3 256.9 L1155.2 254.0 L1156.1 251.1 L1157.0 248.3 L1157.9 245.4 L1158.8 242.5 L1159.7 239.7 L1160.7 236.8 L1161.6 234.0 L1162.6 231.1 L1163.5 228.3 L1164.5 225.4 L1165.5 222.6 L1166.5 219.7 L1167.5 216.9 L1168.5 214.1 L1169.5 211.2 L1170.5 208.4 L1171.6 205.6 L1172.6 202.8 L1173.7 200.0 L1174.8 197.1 L1175.8 194.3 L1177.0 191.5 L1178.1 188.8 L1179.2 186.0 L1180.4 183.2 L1181.5 180.4 L1182.7 177.6 L1183.9 174.9 L1185.2 172.1 L1186.4 169.4 L1187.7 166.7 L1189.0 163.9 L1190.3 161.2 L1191.6 158.5 L1193.0 155.8 L1194.4 153.1 L1195.8 150.4 L1197.2 147.8 L1198.7 145.1 L1200.2 142.4 L1201.7 139.8 L1203.2 137.2 L1204.8 134.6 L1206.4 132.1 L1208.1 129.5 L1209.8 127.0 L1211.5 124.5 L1213.2 122.0 L1215.0 119.6 L1216.8 117.2 L1218.7 114.8 L1220.6 112.5 L1222.5 110.2 L1224.5 107.9 L1226.5 105.7 L1228.6 103.6 L1230.7 101.4 L1232.8 99.4 L1235.0 97.3 L1237.3 95.4 L1239.5 93.4 L1241.9 91.6 L1244.2 89.8 L1246.7 88.0 L1249.1 86.3 L1251.6 84.6 L1254.2 83.0 L1256.7 81.4 L1259.3 79.9 L1262.0 78.5 L1264.6 77.1 L1267.3 75.7 L1270.1 74.4 L1272.8 73.2 L1275.6 72.0 L1278.4 70.8 L1281.3 69.7 L1284.1 68.7 L1287.0 67.7" fill="none" stroke="#0000ff" stroke-width="6.0" stroke-dasharray="11.2 12.4" stroke-linecap="round" stroke-linejoin="round"/>
<path d="M342.9 1275.8 L345.9 1275.8 L348.9 1275.8 L352.0 1275.8 L355.0 1275.8 L358.0 1275.8 L361.0 1275.8 L364.0 1275.8 L367.0 1275.7 L370.0 1275.7 L373.0 1275.6 L376.0 1275.6 L379.0 1275.5 L382.0 1275.4 L385.0 1275.3 L388.0 1275.2 L391.0 1275.1 L394.0 1275.0 L397.0 1274.9 L400.0 1274.7 L403.0 1274.5 L405.9 1274.4 L408.9 1274.2 L411.9 1273.9 L414.9 1273.7 L417.9 1273.5 L420.9 1273.2 L423.9 1272.9 L426.9 1272.6 L429.9 1272.3 L432.9 1272.0 L435.9 1271.6 L438.9 1271.3 L441.9 1270.9 L444.9 1270.5 L447.9 1270.1 L450.8 1269.7 L453.8 1269.2 L456.8 1268.8 L459.8 1268.3 L462.8 1267.8 L465.8 1267.3 L468.8 1266.8 L471.7 1266.2 L474.7 1265.6 L477.6 1265.0 L480.6 1264.4 L483.5 1263.7 L486.4 1263.0 L489.4 1262.3 L492.3 1261.5 L495.2 1260.7 L498.0 1259.9 L500.9 1259.0 L503.8 1258.1 L506.6 1257.2 L509.5 1256.3 L512.3 1255.3 L515.1 1254.3 L518.0 1253.3 L520.8 1252.3 L523.6 1251.2 L526.4 1250.1 L529.2 1249.0 L531.9 1247.9 L534.7 1246.7 L537.5 1245.5 L540.2 1244.4 L543.0 1243.1 L545.7 1241.9 L548.4 1240.7 L551.2 1239.4 L553.9 1238.1 L556.6 1236.8 L559.3 1235.5 L562.0 1234.2 L564.7 1232.9 L567.4 1231.5 L570.1 1230.2 L572.7 1228.8 L575.4 1227.4 L578.1 1226.0 L580.7 1224.6 L583.4 1223.2 L586.0 1221.8 L588.6 1220.3 L591.3 1218.9 L593.9 1217.4 L596.5 1215.9 L599.1 1214.4 L601.7 1212.9 L604.3 1211.4 L606.9 1209.9 L609.5 1208.4 L612.1 1206.9 L614.7 1205.3 L617.3 1203.8 L619.8 1202.2 L622.4 1200.6 L624.9 1199.0 L627.5 1197.4 L630.0 1195.8 L632.6 1194.2 L635.1 1192.6 L637.6 1191.0 L640.1 1189.3 L642.6 1187.7 L645.1 1186.0 L647.6 1184.3 L650.1 1182.6 L652.6 1180.9 L655.1 1179.2 L657.6 1177.5 L660.1 1175.8 L662.5 1174.1 L665.0 1172.4 L667.4 1170.6 L669.9 1168.9 L672.3 1167.1 L674.8 1165.3 L677.2 1163.5 L679.6 1161.8 L682.0 1160.0 L684.4 1158.2 L686.9 1156.4 L689.3 1154.5 L691.6 1152.7 L694.0 1150.9 L696.4 1149.0 L698.8 1147.2 L701.2 1145.3 L703.5 1143.5 L705.9 1141.6 L708.2 1139.7 L710.6 1137.8 L712.9 1135.9 L715.3 1134.0 L717.6 1132.1 L719.9 1130.2 L722.3 1128.3 L724.6 1126.4 L726.9 1124.4 L729.2 1122.5 L731.5 1120.6 L733.8 1118.6 L736.0 1116.7 L738.3 1114.7 L740.6 1112.7 L742.9 1110.7 L745.1 1108.8 L747.4 1106.8 L749.6 1104.8 L751.9 1102.8 L754.1 1100.8 L756.4 1098.8 L758.6 1096.7 L760.8 1094.7 L763.0 1092.7 L765.2 1090.6 L767.4 1088.6 L769.6 1086.6 L771.8 1084.5 L774.0 1082.4 L776.2 1080.4 L778.4 1078.3 L780.5 1076.2 L782.7 1074.1 L784.9 1072.1 L787.0 1070.0 L789.2 1067.9 L791.3 1065.8 L793.4 1063.6 L795.6 1061.5 L797.7 1059.4 L799.8 1057.3 L801.9 1055.1 L804.0 1053.0 L806.1 1050.8 L808.2 1048.7 L810.3 1046.5 L812.4 1044.4 L814.4 1042.2 L816.5 1040.0 L818.6 1037.9 L820.6 1035.7 L822.7 1033.5 L824.7 1031.3 L826.8 1029.1 L828.8 1026.9 L830.8 1024.7 L832.9 1022.4 L834.9 1020.2 L836.9 1018.0 L838.9 1015.7 L840.9 1013.5 L842.9 1011.2 L844.9 1009.0 L846.8 1006.7 L848.8 1004.5 L850.8 1002.2 L852.7 999.9 L854.7 997.6 L856.6 995.4 L858.6 993.1 L860.5 990.8 L862.4 988.5 L864.4 986.2 L866.3 983.8 L868.2 981.5 L870.1 979.2 L872.0 976.9 L873.9 974.5 L875.8 972.2 L877.7 969.8 L879.5 967.5 L881.4 965.1 L883.3 962.8 L885.1 960.4 L887.0 958.0 L888.8 955.7 L890.7 953.3 L892.5 950.9 L894.3 948.5 L896.1 946.1 L897.9 943.7 L899.7 941.3 L901.5 938.9 L903.3 936.4 L905.1 934.0 L906.9 931.6 L908.7 929.1 L910.4 926.7 L912.2 924.2 L914.0 921.8 L915.7 919.3 L917.4 916.9 L919.2 914.4 L920.9 911.9 L922.6 909.4 L924.3 906.9 L926.0 904.5 L927.6 902.0 L929.3 899.4 L931.0 896.9 L932.6 894.4 L934.2 891.9 L935.9 889.4 L937.5 886.8 L939.1 884.3 L940.7 881.7 L942.3 879.2 L943.8 876.6 L945.4 874.1 L946.9 871.5 L948.5 868.9 L950.0 866.3 L951.5 863.7 L953.0 861.2 L954.6 858.6 L956.1 856.0 L957.6 853.4 L959.1 850.8 L960.6 848.2 L962.0 845.6 L963.5 843.0 L965.0 840.4 L966.5 837.7 L968.0 835.1 L969.5 832.5 L971.0 829.9 L972.5 827.3 L974.0 824.7 L975.5 822.1 L977.0 819.5 L978.4 816.8 L979.9 814.2 L981.4 811.6 L982.8 809.0 L984.3 806.3 L985.7 803.7 L987.1 801.0 L988.5 798.4 L989.9 795.7 L991.3 793.0 L992.6 790.3 L994.0 787.7 L995.3 785.0 L996.6 782.3 L997.9 779.5 L999.2 776.8 L1000.4 774.1 L1001.7 771.4 L1002.9 768.6 L1004.1 765.9 L1005.3 763.1 L1006.5 760.4 L1007.7 757.6 L1008.9 754.8 L1010.0 752.1 L1011.2 749.3 L1012.3 746.5 L1013.5 743.7 L1014.6 741.0 L1015.7 738.2 L1016.8 735.4 L1017.9 732.6 L1019.0 729.8 L1020.1 727.0 L1021.2 724.2 L1022.3 721.4 L1023.4 718.6 L1024.4 715.7 L1025.5 712.9 L1026.6 710.1 L1027.6 707.3 L1028.7 704.5 L1029.7 701.6 L1030.7 698.8 L1031.8 696.0 L1032.8 693.2 L1033.9 690.3 L1034.9 687.5 L1035.9 684.7 L1036.9 681.9 L1038.0 679.0 L1039.0 676.2 L1040.0 673.4 L1041.1 670.5 L1042.1 667.7 L1043.1 664.9 L1044.1 662.1 L1045.2 659.2 L1046.2 656.4 L1047.2 653.6 L1048.2 650.7 L1049.2 647.9 L1050.2 645.1 L1051.2 642.2 L1052.2 639.4 L1053.2 636.6 L1054.2 633.7 L1055.2 630.9 L1056.2 628.1 L1057.2 625.2 L1058.2 622.4 L1059.1 619.5 L1060.1 616.7 L1061.0 613.8 L1062.0 611.0 L1062.9 608.1 L1063.8 605.3 L1064.7 602.4 L1065.7 599.6 L1066.6 596.7 L1067.4 593.8 L1068.3 590.9 L1069.2 588.1 L1070.0 585.2 L1070.9 582.3 L1071.7 579.4 L1072.5 576.5 L1073.4 573.6 L1074.2 570.8 L1075.0 567.9 L1075.7 565.0 L1076.5 562.1 L1077.3 559.1 L1078.1 556.2 L1078.8 553.3 L1079.6 550.4 L1080.3 547.5 L1081.1 544.6 L1081.8 541.7 L1082.6 538.8 L1083.3 535.9 L1084.1 532.9 L1084.8 530.0 L1085.6 527.1 L1086.3 524.2 L1087.0 521.3 L1087.8 518.4 L1088.5 515.5 L1089.3 512.5 L1090.1 509.6 L1090.8 506.7 L1091.6 503.8 L1092.4 500.9 L1093.1 498.0 L1093.9 495.1 L1094.7 492.2 L1095.5 489.3 L1096.4 486.4 L1097.2 483.5 L1098.0 480.6 L1098.8 477.8 L1099.7 474.9 L1100.5 472.0 L1101.4 469.1 L1102.2 466.2 L1103.1 463.3 L1103.9 460.5 L1104.8 457.6 L1105.7 454.7 L1106.5 451.8 L1107.4 448.9 L1108.3 446.1 L1109.1 443.2 L1110.0 440.3 L1110.9 437.4 L1111.8 434.6 L1112.6 431.7 L1113.5 428.8 L1114.3 425.9 L1115.2 423.0 L1116.1 420.2 L1116.9 417.3 L1117.8 414.4 L1118.6 411.5 L1119.4 408.6 L1120.3 405.7 L1121.1 402.8 L1121.9 399.9 L1122.7 397.0 L1123.6 394.2 L1124.4 391.3 L1125.2 388.4 L1126.0 385.5 L1126.7 382.6 L1127.5 379.7 L1128.3 376.8 L1129.1 373.8 L1129.9 370.9 L1130.7 368.0 L1131.4 365.1 L1132.2 362.2 L1133.0 359.3 L1133.7 356.4 L1134.5 353.5 L1135.3 350.6 L1136.0 347.7 L1136.8 344.8 L1137.5 341.8 L1138.3 338.9 L1139.1 336.0 L1139.8 333.1 L1140.6 330.2 L1141.3 327.3 L1142.1 324.4 L1142.9 321.5 L1143.6 318.6 L1144.4 315.7 L1145.2 312.7 L1145.9 309.8 L1146.7 306.9 L1147.5 304.0 L1148.2 301.1 L1149.0 298.2 L1149.8 295.3 L1150.6 292.4 L1151.4 289.5 L1152.2 286.6 L1153.0 283.7 L1153.8 280.8 L1154.6 277.9 L1155.4 275.0 L1156.2 272.1 L1157.1 269.3 L1157.9 266.4 L1158.7 263.5 L1159.6 260.6 L1160.4 257.7 L1161.3 254.9 L1162.2 252.0 L1163.1 249.1 L1163.9 246.2 L1164.8 243.4 L1165.7 240.5 L1166.6 237.6 L1167.5 234.8 L1168.5 231.9 L1169.4 229.1 L1170.4 226.2 L1171.3 223.4 L1172.3 220.5 L1173.3 217.7 L1174.2 214.9 L1175.2 212.0 L1176.3 209.2 L1177.3 206.4 L1178.3 203.6 L1179.4 200.7 L1180.4 197.9 L1181.5 195.1 L1182.6 192.3 L1183.7 189.5 L1184.9 186.7 L1186.0 184.0 L1187.2 181.2 L1188.4 178.4 L1189.6 175.7 L1190.8 172.9 L1192.0 170.2 L1193.3 167.4 L1194.6 164.7 L1195.9 162.0 L1197.2 159.3 L1198.5 156.5 L1199.9 153.8 L1201.3 151.2 L1202.7 148.5 L1204.1 145.8 L1205.6 143.2 L1207.1 140.5 L1208.7 137.9 L1210.2 135.4 L1211.9 132.8 L1213.5 130.3 L1215.2 127.8 L1217.0 125.4 L1218.8 123.0 L1220.7 120.7 L1222.6 118.4 L1224.6 116.2 L1226.7 114.0 L1228.8 111.9 L1231.0 109.9 L1233.2 107.9 L1235.5 106.0 L1237.9 104.1 L1240.3 102.4 L1242.8 100.6 L1245.3 99.0 L1247.8 97.4 L1250.4 95.9 L1253.1 94.4 L1255.7 93.0 L1258.4 91.7 L1261.1 90.4 L1263.9 89.2 L1266.7 88.1 L1269.5 87.0 L1272.3 86.0 L1275.1 85.0 L1278.0 84.1 L1280.8 83.2 L1283.7 82.4 L1286.6 81.6 L1289.6 80.8 L1292.5 80.1 L1295.4 79.5 L1298.4 78.8 L1301.4 78.3 L1304.3 77.7 L1307.3 77.2 L1310.3 76.6 L1313.3 76.2 L1316.3 75.7 L1319.3 75.3 L1322.3 74.8 L1325.3 74.4 L1328.3 74.1 L1331.3 73.7 L1334.3 73.3 L1337.3 73.0 L1340.3 72.7 L1343.3 72.4 L1346.2 72.1 L1349.2 71.8 L1352.2 71.5 L1355.2 71.3 L1358.2 71.1 L1361.2 70.8 L1364.2 70.6 L1367.2 70.4 L1370.2 70.2 L1373.2 70.0 L1376.2 69.9 L1379.2 69.7 L1382.2 69.6 L1385.2 69.4 L1388.2 69.3 L1391.2 69.2 L1394.2 69.1 L1397.2 69.0 L1400.2 68.9 L1403.2 68.8 L1406.2 68.7 L1409.2 68.6 L1412.2 68.6 L1415.2 68.5 L1418.2 68.4 L1421.2 68.4 L1424.2 68.3 L1427.2 68.3 L1430.2 68.3 L1433.2 68.2 L1436.2 68.2 L1439.2 68.2 L1442.2 68.1 L1445.2 68.1 L1448.2 68.1 L1451.2 68.0 L1454.2 68.0 L1457.2 68.0 L1460.2 68.0 L1463.2 67.9 L1466.2 67.9 L1469.2 67.9 L1472.2 67.9 L1475.2 67.8 L1478.2 67.8 L1481.2 67.8 L1484.2 67.7 L1487.2 67.7 L1490.2 67.6 L1493.2 67.6 L1496.2 67.5 L1499.2 67.5 L1502.2 67.4 L1505.2 67.3 L1508.2 67.2 L1511.2 67.1 L1514.2 67.1 L1517.2 66.9 L1520.3 66.8 L1523.3 66.7 L1526.3 66.6 L1529.3 66.5 L1532.3 66.3 L1535.3 66.2 L1538.3 66.0 L1541.3 65.8 L1544.3 65.6 L1547.3 65.4 L1550.4 65.2 L1553.4 65.0 L1556.4 64.7 L1559.4 64.5" fill="none" stroke="#000" stroke-width="6.199999999999999" stroke-linejoin="round"/>
<path d="M1146.5 306.9H1224" stroke="#000" stroke-width="3.6" fill="none"/>
<path d="M1221.6 298.4L1251.8 306.9L1221.6 315.4Z" fill="#000"/>
<path d="M1066 694.7H1146" stroke="#00f" stroke-width="4.2" stroke-dasharray="9.2 8.9" stroke-linecap="round" fill="none"/>
<path d="M1143.2 686.4L1173 694.7L1143.2 703Z" fill="#00f"/>
<text transform="translate(197.8 1298.9) scale(1 1.02)" font-family="'Liberation Sans', Arial, sans-serif" font-size="76.8" text-anchor="end" fill="#000">0</text>
<text transform="translate(197.8 1056.6) scale(1 1.02)" font-family="'Liberation Sans', Arial, sans-serif" font-size="76.8" text-anchor="end" fill="#000">3</text>
<text transform="translate(197.8 814.2) scale(1 1.02)" font-family="'Liberation Sans', Arial, sans-serif" font-size="76.8" text-anchor="end" fill="#000">6</text>
<text transform="translate(197.8 571.9) scale(1 1.02)" font-family="'Liberation Sans', Arial, sans-serif" font-size="76.8" text-anchor="end" fill="#000">9</text>
<text transform="translate(197.8 329.5) scale(1 1.02)" font-family="'Liberation Sans', Arial, sans-serif" font-size="76.8" text-anchor="end" fill="#000">12</text>
<text transform="translate(197.8 87.2) scale(1 1.02)" font-family="'Liberation Sans', Arial, sans-serif" font-size="76.8" text-anchor="end" fill="#000">15</text>
<text transform="translate(1875.0 1298.8) scale(1.035 1)" font-family="'DejaVu Sans Condensed', 'DejaVu Sans', 'Liberation Sans', sans-serif" font-size="67.2" text-anchor="start" fill="#000">0</text>
<text transform="translate(1875.0 1056.5) scale(1.035 1)" font-family="'DejaVu Sans Condensed', 'DejaVu Sans', 'Liberation Sans', sans-serif" font-size="67.2" text-anchor="start" fill="#000">20</text>
<text transform="translate(1875.0 814.1) scale(1.035 1)" font-family="'DejaVu Sans Condensed', 'DejaVu Sans', 'Liberation Sans', sans-serif" font-size="67.2" text-anchor="start" fill="#000">40</text>
<text transform="translate(1875.0 571.8) scale(1.035 1)" font-family="'DejaVu Sans Condensed', 'DejaVu Sans', 'Liberation Sans', sans-serif" font-size="67.2" text-anchor="start" fill="#000">60</text>
<text transform="translate(1875.0 329.4) scale(1.035 1)" font-family="'DejaVu Sans Condensed', 'DejaVu Sans', 'Liberation Sans', sans-serif" font-size="67.2" text-anchor="start" fill="#000">80</text>
<text transform="translate(1875.0 87.1) scale(1.035 1)" font-family="'DejaVu Sans Condensed', 'DejaVu Sans', 'Liberation Sans', sans-serif" font-size="67.2" text-anchor="start" fill="#000">100</text>
<text transform="translate(263.3 1399.6) scale(1.045 1)" font-family="'DejaVu Sans Condensed', 'DejaVu Sans', 'Liberation Sans', sans-serif" font-size="67.2" text-anchor="middle" fill="#000">0.1</text>
<text transform="translate(648.3 1399.6) scale(1.045 1)" font-family="'DejaVu Sans Condensed', 'DejaVu Sans', 'Liberation Sans', sans-serif" font-size="67.2" text-anchor="middle" fill="#000">1</text>
<text transform="translate(1033.4 1399.6) scale(1.045 1)" font-family="'DejaVu Sans Condensed', 'DejaVu Sans', 'Liberation Sans', sans-serif" font-size="67.2" text-anchor="middle" fill="#000">10</text>
<text transform="translate(1418.4 1399.6) scale(1.045 1)" font-family="'DejaVu Sans Condensed', 'DejaVu Sans', 'Liberation Sans', sans-serif" font-size="67.2" text-anchor="middle" fill="#000">100</text>
<text transform="translate(1803.4 1399.6) scale(1.045 1)" font-family="'DejaVu Sans Condensed', 'DejaVu Sans', 'Liberation Sans', sans-serif" font-size="67.2" text-anchor="middle" fill="#000">1000</text>
<text transform="translate(96 665.2) rotate(-90)" font-family="'Liberation Sans', Arial, sans-serif" font-size="83.1" text-anchor="middle" fill="#000">Voume fraction [%]</text>
<text transform="translate(2055.2 671.6) rotate(-90)" font-family="'Liberation Sans', Arial, sans-serif" font-size="82.8" text-anchor="middle" fill="#000">Cumulative volume [%]</text>
<text transform="translate(1000.6 1508.4)" font-family="'Liberation Sans', Arial, sans-serif" font-size="76.8" text-anchor="middle" fill="#000">Particle diameter [<tspan font-family="'Liberation Serif', serif">μ</tspan>m]</text>
<path d="M347.5 187H424" stroke="#000" stroke-width="6.6" stroke-linecap="round"/>
<path d="M346.5 299H425" stroke="#00f" stroke-width="4.8" stroke-dasharray="12 11.5" stroke-linecap="round"/>
<text transform="translate(450.3 209.4) scale(1.06 1)" font-family="'DejaVu Sans Condensed', 'DejaVu Sans', 'Liberation Sans', sans-serif" font-size="64.2" text-anchor="start" fill="#000">RC</text>
<text transform="translate(449.8 321) scale(1.06 1)" font-family="'DejaVu Sans Condensed', 'DejaVu Sans', 'Liberation Sans', sans-serif" font-size="64.2" text-anchor="start" fill="#000">GGBS</text>
</g>
</svg>
</body></html>
